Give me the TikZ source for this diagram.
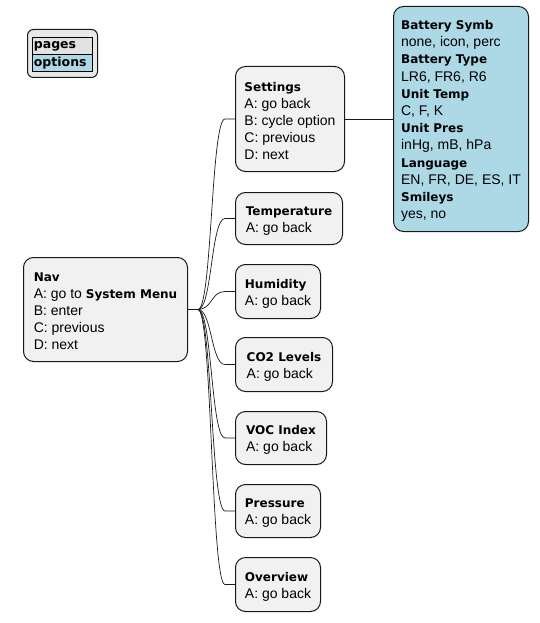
\documentclass[tikz,border=0pt]{standalone}
\usepackage{fontspec}
\setmainfont{Liberation Sans}
\newfontfamily\dvs{DejaVu Sans}
\newcommand{\hd}[1]{{\dvs\bfseries\fontsize{12}{17}\selectfont #1}}
\newcommand{\ttl}[1]{\rule{0pt}{13pt}\hd{#1}}
\usetikzlibrary{calc}
\definecolor{nodefill}{HTML}{F1F1F1}
\definecolor{edgecol}{HTML}{181818}
\definecolor{optfill}{HTML}{ADD8E6}
\definecolor{rowfill}{HTML}{E2E2E2}
\definecolor{legfill}{HTML}{E8E8E8}
\begin{document}
\begin{tikzpicture}[x=1pt,y=-1pt,
  box/.style={draw=edgecol, line width=1pt, fill=nodefill, rounded corners=10pt,
    align=left, anchor=north west, inner sep=0pt,
    font=\fontsize{14}{17}\selectfont, text=black},
  link/.style={draw=edgecol, line width=0.7pt},
  cell/.style={draw=black, line width=0.8pt, anchor=north west, inner xsep=1.5pt,
    inner ysep=0pt, minimum height=17pt, text width=57pt, align=left,
    font=\dvs\bfseries\fontsize{12.5}{15}\selectfont}]
\useasboundingbox (0,0) rectangle (539,623);

% legend
\node[draw=edgecol, line width=1pt, fill=legfill, rounded corners=6pt,
  minimum width=70pt, minimum height=48pt, anchor=north west, inner sep=0pt] (leg) at (27,29) {};
\node[cell, fill=rowfill] (lpages) at (32,37) {pages};
\node[cell, fill=optfill] (lopts) at (32,54) {options};

% nodes
\node[box, minimum width=164pt, minimum height=104pt] (nav) at (23,257)
  {\ttl{Nav}\\A: go to \hd{System Menu}\\B: enter\\C: previous\\D: next};
\node[box, minimum width=109pt, minimum height=105pt] (set) at (235,66)
  {\ttl{Settings}\\A: go back\\B: cycle option\\C: previous\\D: next};
\node[box, minimum width=107pt, minimum height=52pt] (temp) at (235,192)
  {\ttl{Temperature}\\A: go back};
\node[box, minimum width=85pt, minimum height=54pt] (hum) at (235,264)
  {\ttl{Humidity}\\A: go back};
\node[box, minimum width=97pt, minimum height=54pt] (co2) at (235,337)
  {\ttl{CO2 Levels}\\A: go back};
\node[box, minimum width=91pt, minimum height=53pt] (voc) at (235,411)
  {\ttl{VOC Index}\\A: go back};
\node[box, minimum width=85pt, minimum height=53pt] (pres) at (235,484)
  {\ttl{Pressure}\\A: go back};
\node[box, minimum width=85pt, minimum height=54pt] (over) at (235,557)
  {\ttl{Overview}\\A: go back};
\node[box, fill=optfill, minimum width=135pt, minimum height=225pt,
  font=\fontsize{14}{17.2}\selectfont] (opt) at (393,6)
  {\ttl{Battery Symb}\\none, icon, perc\\\hd{Battery Type}\\LR6, FR6, R6\\\hd{Unit Temp}\\C, F, K\\\hd{Unit Pres}\\inHg, mB, hPa\\\hd{Language}\\EN, FR, DE, ES, IT\\\hd{Smileys}\\yes, no};

% connectors
\foreach \n in {set,temp,hum,co2,voc,pres,over}
  \draw[link] (nav.east) -- ++(10,0) .. controls +(14,0) and +(-14,0) .. ($(\n.west)+(-10,0)$) -- (\n.west);
\draw[link] (set.east) -- (opt.west);
\end{tikzpicture}
\end{document}
